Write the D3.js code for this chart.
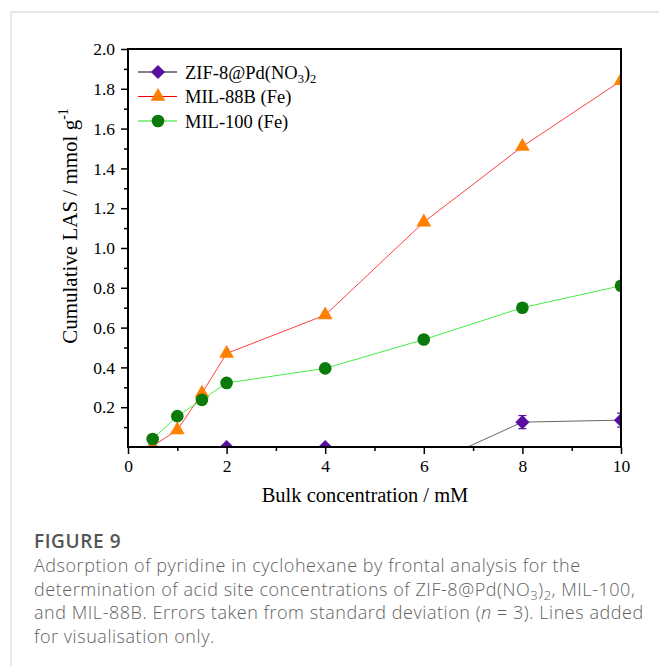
<!DOCTYPE html>
<html><head><meta charset="utf-8">
<script src="https://cdn.jsdelivr.net/npm/d3@7"></script>
<style>
body{margin:0;background:#fff;}
svg{display:block;}
</style></head>
<body>
<svg id="c" width="659" height="666"></svg>
<script>
const xTicks = [0, 2, 4, 6, 8, 10];
const yTicks = [0.2, 0.4, 0.6, 0.8, 1.0, 1.2, 1.4, 1.6, 1.8, 2.0];
const zifX = [2, 4, 6, 8, 10];
const zifY = [0, 0, -0.10, 0.125, 0.135];
const zifErr = [0, 0, 0, 0.033, 0.035];
const mil88X = [0.5, 1, 1.5, 2, 4, 6, 8, 10];
const mil88Y = [0.005, 0.085, 0.27, 0.47, 0.663, 1.13, 1.51, 1.84];
const mil100X = [0.5, 1, 1.5, 2, 4, 6, 8, 10];
const mil100Y = [0.04, 0.155, 0.237, 0.322, 0.395, 0.54, 0.70, 0.81];
const seriesNames = ["ZIF-8@Pd(NO3)2", "MIL-88B (Fe)", "MIL-100 (Fe)"];

const svg = d3.select("#c");
// page frame
svg.append("line").attr("x1",11).attr("y1",12).attr("x2",659).attr("y2",12).attr("stroke","#d0d0d0");
svg.append("line").attr("x1",11).attr("y1",12).attr("x2",11).attr("y2",666).attr("stroke","#d0d0d0");

const L=128, R=621, T=49, B=447;
const x = d3.scaleLinear().domain([0,10]).range([L,R]);
const y = d3.scaleLinear().domain([0,2]).range([B,T]);
const serif = "'Liberation Serif','Times New Roman',serif";

svg.append("defs").append("clipPath").attr("id","clip")
  .append("rect").attr("x",L).attr("y",T).attr("width",R-L).attr("height",B-T);

// axes
const xAxis = d3.axisBottom(x).tickValues(xTicks).tickFormat(d3.format("d")).tickSize(7).tickPadding(6);
const xMinor = d3.axisBottom(x).tickValues([1,3,5,7,9]).tickFormat("").tickSize(4);
const yAxis = d3.axisLeft(y).tickValues(yTicks).tickFormat(d3.format(".1f")).tickSize(7).tickPadding(6);
const yMinor = d3.axisLeft(y).tickValues([0.1,0.3,0.5,0.7,0.9,1.1,1.3,1.5,1.7,1.9]).tickFormat("").tickSize(4);

function styleAxis(g){
  g.select(".domain").remove();
  g.selectAll("line").attr("stroke","#000").attr("stroke-width",1.5);
  g.selectAll("text").attr("font-family",serif).attr("font-size",17.5).attr("fill","#000");
}
svg.append("g").attr("transform",`translate(0,${B})`).call(xAxis).call(styleAxis);
svg.append("g").attr("transform",`translate(0,${B})`).call(xMinor).call(styleAxis);
svg.append("g").attr("transform",`translate(${L},0)`).call(yAxis).call(styleAxis);
svg.append("g").attr("transform",`translate(${L},0)`).call(yMinor).call(styleAxis);

const plot = svg.append("g").attr("clip-path","url(#clip)");

function symPath(shape,size){
  return d3.symbol().type(shape).size(size)();
}
function drawSeries(xs, ys, errs, lineColor, lineW, markColor, shape, size, rot){
  const pts = xs.map((v,i)=>({x:v,y:ys[i],e:errs?errs[i]:0}));
  plot.append("path").datum(pts)
    .attr("d", d3.line().x(d=>x(d.x)).y(d=>y(d.y)))
    .attr("fill","none").attr("stroke",lineColor).attr("stroke-width",lineW);
  pts.filter(d=>d.e>0).forEach(d=>{
    const g = plot.append("g").attr("stroke",markColor).attr("stroke-width",1.2);
    g.append("line").attr("x1",x(d.x)).attr("x2",x(d.x)).attr("y1",y(d.y-d.e)).attr("y2",y(d.y+d.e));
    g.append("line").attr("x1",x(d.x)-4).attr("x2",x(d.x)+4).attr("y1",y(d.y-d.e)).attr("y2",y(d.y-d.e));
    g.append("line").attr("x1",x(d.x)-4).attr("x2",x(d.x)+4).attr("y1",y(d.y+d.e)).attr("y2",y(d.y+d.e));
  });
  plot.selectAll(null).data(pts.filter(d=>d.y>=0)).enter().append("path")
    .attr("transform",d=>`translate(${x(d.x)},${y(d.y)}) rotate(${rot||0})`)
    .attr("d", symPath(shape,size))
    .attr("fill",markColor);
}
drawSeries(zifX, zifY, zifErr, "#666", 1, "#5a0ea0", d3.symbolSquare, 100, 45);
drawSeries(mil88X, mil88Y, null, "#ff4040", 1, "#ff7f00", d3.symbolTriangle, 95, 0);
drawSeries(mil100X, mil100Y, null, "#44ee44", 1, "#0a7a0a", d3.symbolCircle, 125, 0);

// frame
svg.append("rect").attr("x",L).attr("y",T).attr("width",R-L).attr("height",B-T)
  .attr("fill","none").attr("stroke","#000").attr("stroke-width",2);

// legend
const leg = [
  {c:"#000", m:"#5a0ea0", s:d3.symbolSquare, sz:100, r:45},
  {c:"#ff0000", m:"#ff7f00", s:d3.symbolTriangle, sz:95, r:0},
  {c:"#22dd22", m:"#0a7a0a", s:d3.symbolCircle, sz:125, r:0}
];
leg.forEach((d,i)=>{
  const yy = 72 + i*24.5;
  svg.append("line").attr("x1",138).attr("x2",177).attr("y1",yy).attr("y2",yy).attr("stroke",d.c).attr("stroke-width",1);
  svg.append("path").attr("transform",`translate(158,${yy}) rotate(${d.r})`).attr("d",symPath(d.s,d.sz)).attr("fill",d.m);
  const t = svg.append("text").attr("x",185).attr("y",yy+6.5).attr("font-family",serif).attr("font-size",18.5).attr("fill","#000");
  if(i===0){
    t.append("tspan").text("ZIF-8@Pd(NO");
    t.append("tspan").text("3").attr("font-size",12.5).attr("dy",4);
    t.append("tspan").text(")").attr("dy",-4);
    t.append("tspan").text("2").attr("font-size",12.5).attr("dy",4);
  } else t.text(seriesNames[i]);
});

// axis titles
svg.append("text").attr("x",365).attr("y",502).attr("text-anchor","middle")
  .attr("font-family",serif).attr("font-size",20.5).text("Bulk concentration / mM");
const yl = svg.append("text").attr("transform","translate(77,226) rotate(-90)").attr("text-anchor","middle")
  .attr("font-family",serif).attr("font-size",21);
yl.append("tspan").text("Cumulative LAS / mmol g");
yl.append("tspan").text("-1").attr("font-size",14).attr("dy",-9);

// caption
const sans = "'Open Sans','Noto Sans',sans-serif";
svg.append("text").attr("x",34).attr("y",548).attr("font-family",sans).attr("font-size",19)
  .attr("font-weight",600).attr("letter-spacing",0.6).attr("fill","#555").text("FIGURE 9");
const capLines = [
  ["Adsorption of pyridine in cyclohexane by frontal analysis for the"],
  ["determination of acid site concentrations of ZIF-8@Pd(NO", {sub:"3"}, ")", {sub:"2"}, ", MIL-100,"],
  ["and MIL-88B. Errors taken from standard deviation (", {it:"n"}, " = 3). Lines added"],
  ["for visualisation only."]
];
capLines.forEach((parts,i)=>{
  const t = svg.append("text").attr("x",34).attr("y",572+i*23.7).attr("font-family",sans)
    .attr("font-size",18).attr("letter-spacing",0.54).attr("fill","#5f5f5f").attr("font-weight",300);
  let shifted=false;
  parts.forEach(p=>{
    if(typeof p==="string"){ const s=t.append("tspan").text(p); if(shifted){s.attr("dy",-4);shifted=false;} }
    else if(p.sub){ const s=t.append("tspan").text(p.sub).attr("font-size",13); if(!shifted){s.attr("dy",4);shifted=true;} }
    else if(p.it){ t.append("tspan").text(p.it).attr("font-style","italic"); }
  });
});
</script>
</body></html>
